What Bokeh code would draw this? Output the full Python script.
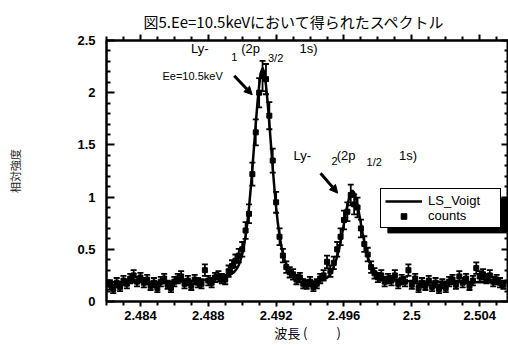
from bokeh.plotting import figure
from bokeh.models import (Range1d, LinearAxis, FixedTicker, Whisker, TeeHead, ColumnDataSource,
                          Label, Arrow, NormalHead, Legend, LegendItem, CustomJSTickFormatter)
from bokeh.embed import file_html
from bokeh.resources import INLINE

# ---------------- data ----------------
wavelength = [
    2.4822, 2.4824, 2.4826, 2.4828, 2.4830, 2.4832, 2.4834, 2.4836, 2.4838, 2.4840,
    2.4842, 2.4844, 2.4846, 2.4848, 2.4850, 2.4852, 2.4854, 2.4856, 2.4858, 2.4860,
    2.4862, 2.4864, 2.4866, 2.4868, 2.4870, 2.4872, 2.4874, 2.4876, 2.4878, 2.4880,
    2.4882, 2.4884, 2.4886, 2.4888, 2.4890, 2.4892, 2.4894, 2.4896, 2.4898, 2.4900,
    2.4902, 2.4904, 2.4906, 2.4908, 2.4910, 2.4912, 2.4914, 2.4916, 2.4918, 2.4920,
    2.4922, 2.4924, 2.4926, 2.4928, 2.4930, 2.4932, 2.4934, 2.4936, 2.4938, 2.4940,
    2.4942, 2.4944, 2.4946, 2.4948, 2.4950, 2.4952, 2.4954, 2.4956, 2.4958, 2.4960,
    2.4962, 2.4964, 2.4966, 2.4968, 2.4970, 2.4972, 2.4974, 2.4976, 2.4978, 2.4980,
    2.4982, 2.4984, 2.4986, 2.4988, 2.4990, 2.4992, 2.4994, 2.4996, 2.4998, 2.5000,
    2.5002, 2.5004, 2.5006, 2.5008, 2.5010, 2.5012, 2.5014, 2.5016, 2.5018, 2.5020,
    2.5022, 2.5024, 2.5026, 2.5028, 2.5030, 2.5032, 2.5034, 2.5036, 2.5038, 2.5040,
    2.5042, 2.5044, 2.5046, 2.5048, 2.5050, 2.5052, 2.5054]

counts = [
    0.16, 0.12, 0.18, 0.14, 0.20, 0.17, 0.22, 0.25, 0.19, 0.23,
    0.18, 0.21, 0.15, 0.18, 0.13, 0.19, 0.22, 0.16, 0.13, 0.19,
    0.22, 0.24, 0.17, 0.20, 0.15, 0.21, 0.18, 0.17, 0.30, 0.20,
    0.18, 0.23, 0.24, 0.22, 0.21, 0.29, 0.34, 0.39, 0.44, 0.50,
    0.68, 0.84, 1.22, 1.62, 2.00, 2.16, 2.13, 1.78, 1.35, 0.95,
    0.62, 0.44, 0.33, 0.28, 0.26, 0.21, 0.23, 0.17, 0.16, 0.19,
    0.14, 0.17, 0.22, 0.25, 0.38, 0.29, 0.37, 0.50, 0.62, 0.78,
    0.86, 1.02, 0.93, 0.90, 0.70, 0.55, 0.45, 0.33, 0.27, 0.23,
    0.25, 0.19, 0.22, 0.20, 0.25, 0.17, 0.21, 0.19, 0.30, 0.16,
    0.22, 0.13, 0.18, 0.15, 0.20, 0.14, 0.18, 0.12, 0.17, 0.13,
    0.19, 0.21, 0.16, 0.24, 0.18, 0.22, 0.15, 0.20, 0.32, 0.24,
    0.26, 0.22, 0.25, 0.19, 0.21, 0.18, 0.16]

counts_err = [
    0.045, 0.040, 0.045, 0.040, 0.045, 0.045, 0.045, 0.050, 0.045, 0.045,
    0.045, 0.045, 0.040, 0.045, 0.040, 0.045, 0.045, 0.040, 0.040, 0.045,
    0.045, 0.050, 0.045, 0.045, 0.040, 0.045, 0.045, 0.045, 0.055, 0.045,
    0.045, 0.045, 0.050, 0.045, 0.045, 0.055, 0.055, 0.060, 0.065, 0.070,
    0.080, 0.090, 0.110, 0.125, 0.140, 0.145, 0.145, 0.130, 0.115, 0.100,
    0.080, 0.065, 0.055, 0.050, 0.050, 0.045, 0.045, 0.045, 0.040, 0.045,
    0.040, 0.045, 0.045, 0.050, 0.060, 0.055, 0.060, 0.070, 0.080, 0.090,
    0.090, 0.100, 0.095, 0.095, 0.085, 0.075, 0.065, 0.055, 0.050, 0.045,
    0.050, 0.045, 0.045, 0.045, 0.050, 0.045, 0.045, 0.045, 0.055, 0.040,
    0.045, 0.040, 0.045, 0.040, 0.045, 0.040, 0.045, 0.040, 0.045, 0.040,
    0.045, 0.045, 0.040, 0.050, 0.045, 0.045, 0.040, 0.045, 0.055, 0.050,
    0.050, 0.045, 0.050, 0.045, 0.045, 0.045, 0.040]

fit_x = [
    2.4820, 2.4830, 2.4840, 2.4850, 2.4860, 2.4870, 2.4875, 2.4880, 2.4884, 2.4888,
    2.4891, 2.4893, 2.4895, 2.4897,
    2.4898, 2.4899, 2.4900, 2.4901, 2.4902, 2.4903, 2.4904, 2.4905, 2.4906, 2.4907,
    2.4908, 2.4909, 2.4910, 2.4911, 2.4912, 2.4913, 2.4914, 2.4915, 2.4916, 2.4917,
    2.4918, 2.4919, 2.4920, 2.4921, 2.4922, 2.4923, 2.4924, 2.4925, 2.4926, 2.4927,
    2.4929, 2.4931, 2.4933, 2.4936, 2.4939, 2.4942, 2.4945, 2.4948, 2.4950, 2.4952,
    2.4953, 2.4954, 2.4955, 2.4956, 2.4957, 2.4958, 2.4959, 2.4960, 2.4961, 2.4962,
    2.4963, 2.4964, 2.4965, 2.4966, 2.4967, 2.4968, 2.4969, 2.4970, 2.4971, 2.4972,
    2.4973, 2.4974, 2.4975, 2.4976, 2.4977, 2.4978,
    2.4980, 2.4982, 2.4985, 2.4988, 2.4992, 2.4997, 2.5003, 2.5010, 2.5020, 2.5030,
    2.5040, 2.5056]

fit_y = [
    0.184, 0.185, 0.187, 0.189, 0.192, 0.198, 0.202, 0.209, 0.219, 0.229,
    0.242, 0.256, 0.278, 0.319,
    0.350, 0.393, 0.453, 0.528, 0.627, 0.748, 0.897, 1.076, 1.275, 1.488,
    1.701, 1.902, 2.070, 2.191, 2.236, 2.196, 2.075, 1.907, 1.706, 1.493,
    1.281, 1.082, 0.903, 0.754, 0.634, 0.535, 0.460, 0.401, 0.358, 0.327,
    0.280, 0.250, 0.228, 0.208, 0.197, 0.192, 0.196, 0.210, 0.226, 0.262,
    0.295, 0.334, 0.380, 0.432, 0.496, 0.571, 0.656, 0.746, 0.837, 0.921,
    0.992, 1.044, 1.062, 1.044, 0.992, 0.921, 0.836, 0.745, 0.654, 0.569,
    0.494, 0.430, 0.378, 0.336, 0.304, 0.279,
    0.247, 0.229, 0.213, 0.206, 0.201, 0.196, 0.192, 0.190, 0.188, 0.186,
    0.185, 0.184]

x_ticks = [2.484, 2.488, 2.492, 2.496, 2.5, 2.504]
x_tick_labels = ["2.484", "2.488", "2.492", "2.496", "2.5", "2.504"]
x_minor_ticks = [2.482, 2.483, 2.485, 2.486, 2.487, 2.489, 2.490, 2.491, 2.493, 2.494,
                 2.495, 2.497, 2.498, 2.499, 2.501, 2.502, 2.503, 2.505]
y_ticks = [0, 0.5, 1, 1.5, 2, 2.5]
y_tick_labels = ["0", "0.5", "1", "1.5", "2", "2.5"]
y_minor_ticks = [0.1, 0.2, 0.3, 0.4, 0.6, 0.7, 0.8, 0.9, 1.1, 1.2, 1.3, 1.4,
                 1.6, 1.7, 1.8, 1.9, 2.1, 2.2, 2.3, 2.4]

title_text = "図5.Ee=10.5keVにおいて得られたスペクトル"
x_label = "波長 (\u3000\u3000 )"
y_label = "相対強度"

# ---------------- figure ----------------
CJK = "Noto Sans CJK JP"
LAT = "Liberation Sans"

p = figure(width=508, height=344, output_backend="svg", toolbar_location=None,
           x_range=Range1d(2.482, 2.5057), y_range=Range1d(0, 2.5),
           min_border_left=106, min_border_right=0, min_border_top=40, min_border_bottom=42,
           background_fill_color="white", border_fill_color="white")
p.xgrid.visible = False
p.ygrid.visible = False
p.outline_line_color = "black"
p.outline_line_width = 2
p.outline_line_alpha = 1

p.title.text = title_text
p.title.align = "left"
p.title.text_font = CJK
p.title.text_font_size = "15px"
p.title.text_font_style = "normal"
p.title.text_color = "black"
p.title.offset = 37
p.title.standoff = 5

def fmt(tv, tl):
    return CustomJSTickFormatter(args=dict(tv=tv, tl=tl), code="""
        for (let i = 0; i < tv.length; i++) {
            if (Math.abs(tv[i] - tick) < 1e-9) { return tl[i]; }
        }
        return "";
    """)

blank = CustomJSTickFormatter(code="return '';")

xt = FixedTicker(ticks=x_ticks, minor_ticks=x_minor_ticks)
yt = FixedTicker(ticks=y_ticks, minor_ticks=y_minor_ticks)

xa = p.xaxis[0]
xa.ticker = xt
xa.formatter = fmt(x_ticks, x_tick_labels)
xa.axis_label = x_label
xa.axis_label_text_font = CJK
xa.axis_label_text_font_size = "13px"
xa.axis_label_text_font_style = "normal"
xa.axis_label_text_color = "black"
xa.axis_label_standoff = 0
xa.major_label_text_font = LAT
xa.major_label_text_font_size = "13px"
xa.major_label_text_font_style = "bold"
xa.major_label_text_color = "black"
xa.major_label_standoff = 4
xa.major_tick_out = 5
xa.major_tick_in = 0
xa.minor_tick_out = 4
xa.minor_tick_in = 0
xa.axis_line_width = 2
xa.major_tick_line_width = 2
xa.minor_tick_line_width = 2

ya = p.yaxis[0]
ya.ticker = yt
ya.formatter = fmt(y_ticks, y_tick_labels)
ya.axis_label = y_label
ya.axis_label_text_font = CJK
ya.axis_label_text_font_size = "11px"
ya.axis_label_text_font_style = "normal"
ya.axis_label_text_color = "#222222"
ya.axis_label_standoff = 51
ya.major_label_text_font = LAT
ya.major_label_text_font_size = "13px"
ya.major_label_text_font_style = "bold"
ya.major_label_text_color = "black"
ya.major_label_standoff = 11
ya.major_tick_in = 8
ya.major_tick_out = 0
ya.minor_tick_in = 4
ya.minor_tick_out = 0
ya.axis_line_width = 2
ya.major_tick_line_width = 2
ya.minor_tick_line_width = 2

top = LinearAxis(ticker=xt, formatter=blank, major_label_standoff=0,
                 major_tick_out=6, major_tick_in=0, minor_tick_out=4, minor_tick_in=0,
                 axis_line_width=2, major_tick_line_width=2, minor_tick_line_width=2)
p.add_layout(top, "above")

right = LinearAxis(ticker=yt, formatter=blank, major_label_standoff=0,
                   major_tick_out=0, major_tick_in=7, minor_tick_out=0, minor_tick_in=4,
                   axis_line_width=2, major_tick_line_width=2, minor_tick_line_width=2)
p.add_layout(right, "right")

# ---------------- glyphs ----------------
src = ColumnDataSource(dict(
    x=wavelength, y=counts,
    upper=[c + e for c, e in zip(counts, counts_err)],
    lower=[c - e for c, e in zip(counts, counts_err)],
))

# legend shadow (decoration)
p.quad(left=[2.49859], right=[2.5057], top=[0.99], bottom=[0.657],
       fill_color="black", line_color="black")

fit_r = p.line(fit_x, fit_y, line_color="black", line_width=2.5)

p.add_layout(Whisker(source=src, base="x", upper="upper", lower="lower",
                     dimension="height", line_color="black", line_width=1.8,
                     upper_head=TeeHead(size=6, line_color="black", line_width=1.8),
                     lower_head=TeeHead(size=6, line_color="black", line_width=1.8)))
pts_r = p.scatter("x", "y", source=src, marker="square", size=5,
                  fill_color="black", line_color="black")

legend = Legend(items=[LegendItem(label="LS_Voigt", renderers=[fit_r]),
                       LegendItem(label="counts", renderers=[pts_r])],
                location=(274, 73), orientation="vertical",
                border_line_color="black", border_line_width=1.5, border_line_alpha=1,
                background_fill_color="white", background_fill_alpha=1,
                padding=4, spacing=0, margin=0,
                glyph_width=37, glyph_height=14, label_height=14, label_width=68,
                label_standoff=6, label_text_font=LAT, label_text_font_size="13px",
                label_text_color="black")
p.add_layout(legend)

# ---------------- annotations ----------------
def lab(x, y, t, size="12px"):
    p.add_layout(Label(x=x, y=y, text=t, text_font=LAT, text_font_size=size,
                       text_baseline="middle", text_align="left", text_color="black"))

lab(2.48698, 2.419, "Ly-", "13px")
lab(2.48935, 2.343, "1", "11px")
lab(2.48994, 2.419, "(2p", "13px")
lab(2.49152, 2.333, "3/2", "11px")
lab(2.49338, 2.419, "1s)", "13px")

lab(2.4853, 2.162, "Ee=10.5keV", "11px")

lab(2.49302, 1.40, "Ly-", "13px")
lab(2.49527, 1.343, "2", "11px")
lab(2.49557, 1.40, "(2p", "13px")
lab(2.49733, 1.333, "1/2", "11px")
lab(2.49924, 1.40, "1s)", "13px")

p.add_layout(Arrow(end=NormalHead(size=8, fill_color="black", line_color="black"),
                   x_start=2.48953, y_start=2.162, x_end=2.49059, y_end=1.981,
                   line_color="black", line_width=3))
p.add_layout(Arrow(end=NormalHead(size=8, fill_color="black", line_color="black"),
                   x_start=2.49462, y_start=1.229, x_end=2.49563, y_end=1.038,
                   line_color="black", line_width=3))

open("out.html", "w").write(file_html(p, INLINE))
